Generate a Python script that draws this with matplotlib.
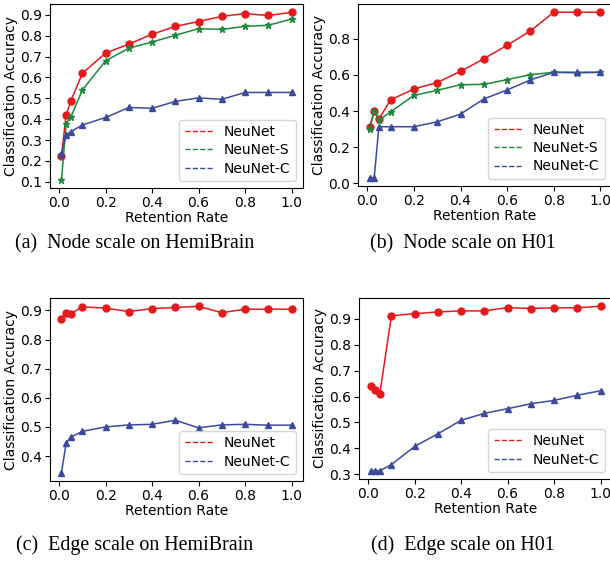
"""Classification accuracy vs. retention rate for NeuNet variants (node / edge scale)."""

import matplotlib
matplotlib.use("Agg")
import matplotlib.pyplot as plt
from matplotlib.lines import Line2D

# ---------------------------------------------------------------------------
# Data
# ---------------------------------------------------------------------------

retention = [0.01, 0.03, 0.05, 0.1, 0.2, 0.3, 0.4, 0.5, 0.6, 0.7, 0.8, 0.9, 1.0]

# (a) node scale, HemiBrain
node_hemi_neunet = [0.225, 0.42, 0.487, 0.62, 0.717, 0.76, 0.807, 0.845, 0.868, 0.893, 0.906, 0.897, 0.912]
node_hemi_neunet_s = [0.11, 0.378, 0.41, 0.54, 0.68, 0.74, 0.77, 0.802, 0.834, 0.83, 0.845, 0.85, 0.88]
node_hemi_neunet_c = [0.235, 0.325, 0.34, 0.372, 0.408, 0.456, 0.452, 0.485, 0.502, 0.495, 0.528, 0.528, 0.528]

# (b) node scale, H01
node_h01_neunet = [0.31, 0.40, 0.355, 0.462, 0.522, 0.558, 0.62, 0.69, 0.765, 0.845, 0.948, 0.948, 0.948]
node_h01_neunet_s = [0.30, 0.40, 0.35, 0.395, 0.487, 0.515, 0.546, 0.548, 0.574, 0.602, 0.615, 0.612, 0.615]
node_h01_neunet_c = [0.03, 0.03, 0.313, 0.313, 0.313, 0.34, 0.383, 0.467, 0.517, 0.573, 0.615, 0.615, 0.615]

# (c) edge scale, HemiBrain
edge_hemi_neunet = [0.871, 0.89, 0.889, 0.912, 0.908, 0.896, 0.906, 0.91, 0.914, 0.892, 0.904, 0.904, 0.904]
edge_hemi_neunet_c = [0.343, 0.445, 0.465, 0.485, 0.5, 0.507, 0.509, 0.523, 0.497, 0.507, 0.509, 0.506, 0.506]

# (d) edge scale, H01
edge_h01_neunet = [0.64, 0.624, 0.61, 0.912, 0.92, 0.927, 0.931, 0.931, 0.944, 0.94, 0.943, 0.943, 0.949]
edge_h01_neunet_c = [0.313, 0.313, 0.313, 0.337, 0.407, 0.456, 0.508, 0.535, 0.553, 0.572, 0.585, 0.605, 0.622]

captions = [
    "(a)  Node scale on HemiBrain",
    "(b)  Node scale on H01",
    "(c)  Edge scale on HemiBrain",
    "(d)  Edge scale on H01",
]

yticks = [
    [0.1, 0.2, 0.3, 0.4, 0.5, 0.6, 0.7, 0.8, 0.9],
    [0.0, 0.2, 0.4, 0.6, 0.8],
    [0.4, 0.5, 0.6, 0.7, 0.8, 0.9],
    [0.3, 0.4, 0.5, 0.6, 0.7, 0.8, 0.9],
]

# ---------------------------------------------------------------------------
# Style
# ---------------------------------------------------------------------------

_STYLE = {
    "NeuNet":   dict(color="#e41a1c", marker="o", ms=5),
    "NeuNet-S": dict(color="#1b8a3c", marker="*", ms=5),
    "NeuNet-C": dict(color="#3c4a9c", marker="^", ms=5),
}

plt.rcParams["font.family"] = "DejaVu Sans"
plt.rcParams["xtick.labelsize"] = 10
plt.rcParams["ytick.labelsize"] = 10

# axes rectangles in figure pixels: left, bottom(from top), right, top(from top)
_W, _H = 610, 561
_BOXES = [
    (50, 188, 303, 4),
    (358, 186, 612, 4),
    (50, 481, 303, 298),
    (359, 479, 612, 298),
]
_CAPTION_POS = [(135, 244), (463, 244), (135, 545), (463, 545)]


def draw_panel(ax, series, ticks):
    for name, vals in series:
        st = _STYLE[name]
        ax.plot(retention, vals, color=st["color"], lw=1.3, alpha=0.25, zorder=2)
        ax.plot(retention, vals, color=st["color"], lw=1.0, marker=st["marker"],
                ms=st["ms"], zorder=3)
    handles = [Line2D([], [], color=_STYLE[n]["color"], ls="--", lw=1.0) for n, _ in series]
    ax.legend(handles, [n for n, _ in series], loc="lower right", fontsize=10,
              handlelength=2.0, borderpad=0.4, labelspacing=0.3, handletextpad=0.8)
    ax.set_xlabel("Retention Rate", fontsize=10, labelpad=1)
    ax.set_ylabel("Classification Accuracy", fontsize=10, labelpad=2)
    ax.set_xticks([0.0, 0.2, 0.4, 0.6, 0.8, 1.0])
    ax.set_yticks(ticks)
    ax.tick_params(pad=2)


def main():
    fig = plt.figure(figsize=(_W / 100, _H / 100), dpi=100)
    panels = [
        [("NeuNet", node_hemi_neunet), ("NeuNet-S", node_hemi_neunet_s), ("NeuNet-C", node_hemi_neunet_c)],
        [("NeuNet", node_h01_neunet), ("NeuNet-S", node_h01_neunet_s), ("NeuNet-C", node_h01_neunet_c)],
        [("NeuNet", edge_hemi_neunet), ("NeuNet-C", edge_hemi_neunet_c)],
        [("NeuNet", edge_h01_neunet), ("NeuNet-C", edge_h01_neunet_c)],
    ]
    for (l, b, r, t), series, ticks in zip(_BOXES, panels, yticks):
        ax = fig.add_axes([l / _W, 1 - b / _H, (r - l) / _W, (b - t) / _H])
        draw_panel(ax, series, ticks)

    for (x, y), txt in zip(_CAPTION_POS, captions):
        fig.text(x / _W, 1 - y / _H, txt, ha="center", va="center",
                 family="Liberation Serif", fontsize=14.4)

    fig.savefig("out.png", dpi=100)


if __name__ == "__main__":
    main()
